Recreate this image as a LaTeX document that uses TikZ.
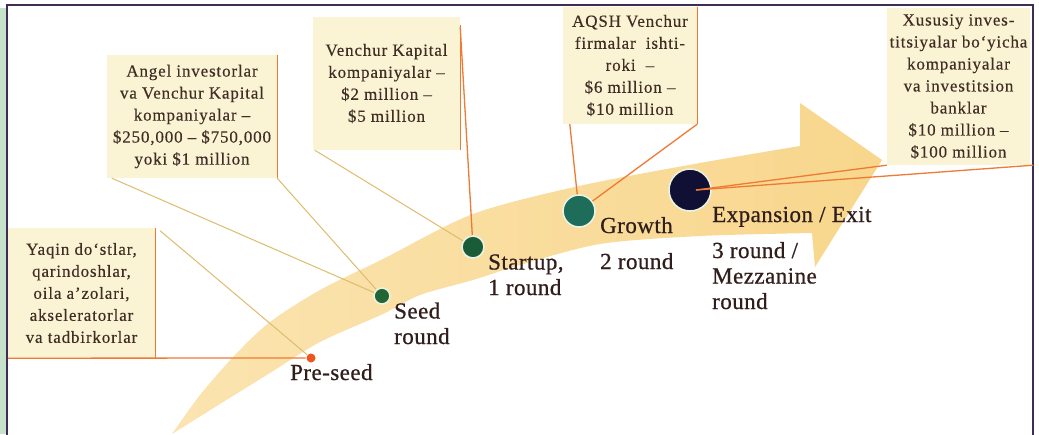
\documentclass[tikz,border=0pt]{standalone}
\usepackage{fontspec}
\setmainfont{Liberation Serif}
\newfontfamily\boxfont[LetterSpace=5,FakeBold=0.3]{Liberation Serif}
\newfontfamily\stagefont[LetterSpace=2,FakeBold=0.7]{Liberation Serif}
\definecolor{framec}{RGB}{62,44,82}
\definecolor{stripc}{RGB}{198,226,202}
\definecolor{boxc}{RGB}{250,243,212}
\definecolor{orangec}{RGB}{238,122,52}
\definecolor{thinc}{RGB}{222,188,110}
\definecolor{arrowa}{RGB}{251,228,176}
\definecolor{arrowb}{RGB}{247,208,128}
\definecolor{arrowc}{RGB}{248,214,140}
\definecolor{textc}{RGB}{48,30,28}
\definecolor{boxtextc}{RGB}{64,46,38}
\definecolor{preseedc}{RGB}{236,84,32}
\definecolor{seedc}{RGB}{34,100,52}
\definecolor{startc}{RGB}{26,92,56}
\definecolor{growc}{RGB}{30,108,90}
\definecolor{expc}{RGB}{16,16,52}
\definecolor{haloc}{RGB}{234,243,226}
\tikzset{
  infobox/.style={fill=boxc, draw=none, inner sep=0pt, align=center,
    font=\boxfont\fontsize{17}{22}\selectfont, text=boxtextc},
  stagedot/.style={circle, inner sep=0pt, draw=haloc, line width=1.6pt},
  stagelabel/.style={inner sep=0pt, align=left, anchor=base west,
    font=\stagefont\fontsize{23}{25.5}\selectfont, text=textc},
  mainline/.style={draw=orangec, line width=1.3pt},
  thinline/.style={draw=thinc, line width=1pt},
}
\begin{document}
\begin{tikzpicture}[x=1pt,y=-1pt]
\useasboundingbox (0,0) rectangle (1039,434);
\fill[white] (0,0) rectangle (1039,434);
% left strip and frame
\fill[stripc] (0,8) rectangle (5.5,434);
\draw[framec, line width=2.5pt] (7,5) rectangle (1033,450);
% big curved arrow
\shade[left color=arrowa, middle color=arrowb, right color=arrowc]
  plot[smooth] coordinates {(172,434) (200,395) (235,355) (270,322) (320,290) (383,259) (473,214) (579,186) (700,163) (800,146)}
  -- (800,103) -- (882,160) -- (815,267) --
  plot[smooth] coordinates {(812,233) (700,236) (600,244) (520,265) (473,280) (420,295) (383,314) (320,342) (270,373) (220,404) (172,434)}
  -- cycle;
% boxes
\node[infobox, minimum width=147, minimum height=130] (b1) at (81.5,293)
  {Yaqin do‘stlar,\\qarindoshlar,\\oila a’zolari,\\akseleratorlar\\va tadbirkorlar};
\node[infobox, minimum width=170, minimum height=123] (b2) at (192,116.5)
  {Angel investorlar\\va Venchur Kapital\\kompaniyalar –\\\$250,000 – \$750,000\\yoki \$1 million};
\node[infobox, minimum width=147, minimum height=133] (b3) at (386.5,83.5)
  {Venchur Kapital\\kompaniyalar –\\\$2 million –\\\$5 million};
\node[infobox, minimum width=134, minimum height=117] (b4) at (630,65.5)
  {AQSH Venchur\\firmalar\ \ ishti-\\roki\ \ –\\\$6 million –\\\$10 million};
\node[infobox, minimum width=143, minimum height=157] (b5) at (958.5,86.5)
  {Xususiy inves-\\titsiyalar bo‘yicha\\kompaniyalar\\va investitsion\\banklar\\\$10 million –\\\$100 million};
% dots
\node[stagedot, fill=preseedc, minimum size=9, draw=none] (d0) at (311,358) {};
\node[stagedot, fill=seedc, minimum size=16] (d1) at (382,296) {};
\node[stagedot, fill=startc, minimum size=22] (d2) at (473,247) {};
\node[stagedot, fill=growc, minimum size=32] (d3) at (579,211) {};
\node[stagedot, fill=expc, minimum size=42] (d4) at (690,190) {};
% box edge lines
\draw[mainline] (b1.north east) -- (b1.south east);
\draw[mainline] (b1.south west) -- (d0);
\draw[mainline] (b2.north east) -- (b2.south east);
\draw[mainline] ([yshift=-8pt]b3.north east) -- (b3.south east);
\draw[mainline] (b4.north east) -- (b4.south east);
% connectors
\draw[thinline] ([xshift=5pt,yshift=-3pt]b1.north east) -- (d0);
\draw[thinline] ([xshift=5pt]b2.south west) -- (d1);
\draw[thinline] (b2.south east) -- (d1);
\draw[thinline] ([xshift=2pt]b3.south west) -- (d2);
\draw[mainline] ([yshift=-10pt]b3.north east) -- (d2);
\draw[mainline] ([xshift=7pt]b4.south west) -- (d3);
\draw[mainline] (b4.south east) -- (d3);
\coordinate (e0) at ([xshift=6pt]d4.center);
\draw[mainline] (e0) -- (b5.south west);
\draw[mainline] (e0) -- ([xshift=3pt]b5.south east);
% stage labels (multi-line nodes: base = last line)
\node[stagelabel] (l0) at (290,380) {Pre-seed};
\node[stagelabel] (l1) at (394,344) {Seed\\round};
\node[stagelabel] (l2) at (488,295) {Startup,\\1 round};
\node[stagelabel] (l3) at (600,233) {Growth};
\node[stagelabel] (l3b) at (600,269) {2 round};
\node[stagelabel] (l4) at (712,222) {Expansion / Exit};
\node[stagelabel] (l4b) at (712,309) {3 round /\\Mezzanine\\round};
\end{tikzpicture}
\end{document}
